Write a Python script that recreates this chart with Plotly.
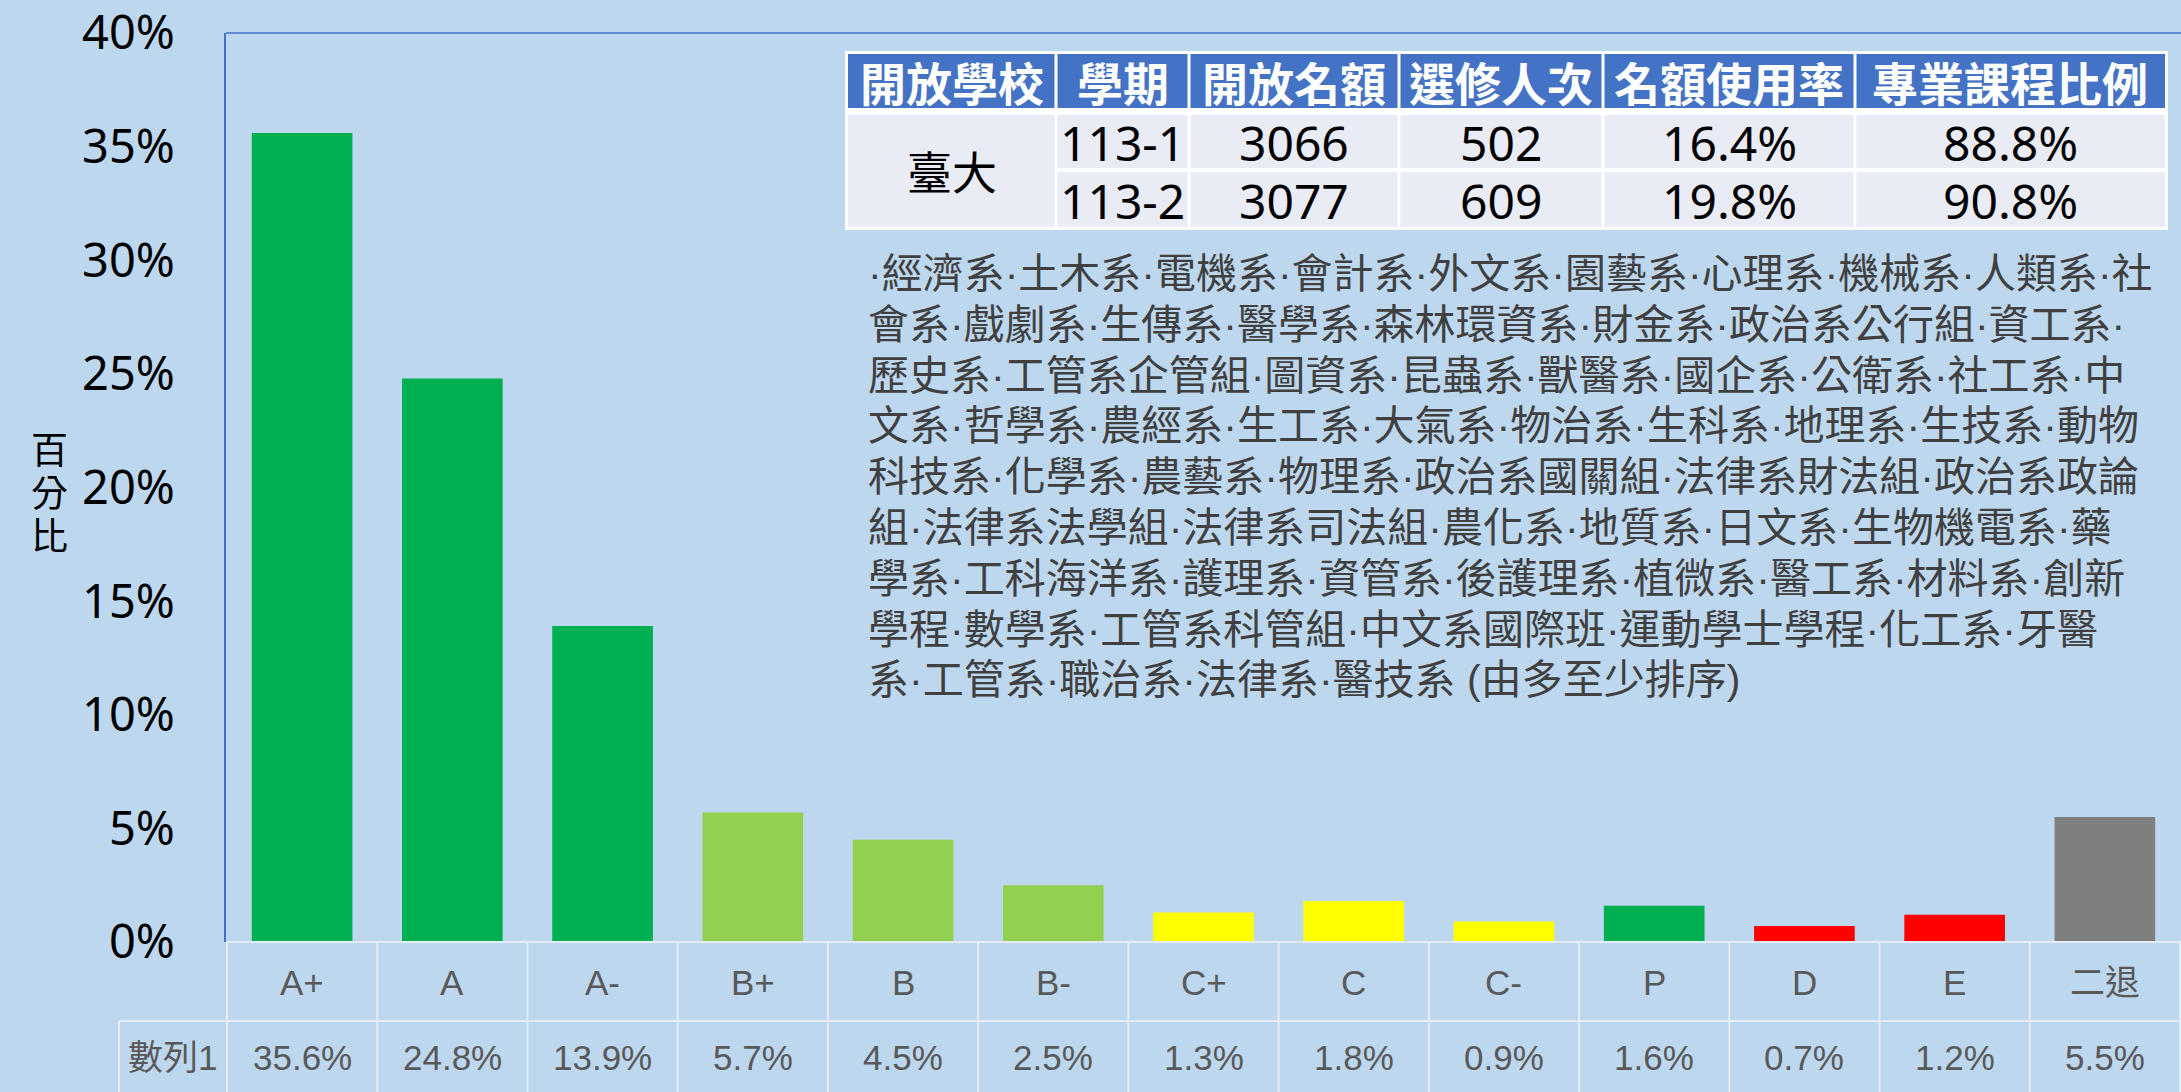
import plotly.graph_objects as go

# ---------------- data ----------------
categories = ["A+", "A", "A-", "B+", "B", "B-", "C+", "C", "C-", "P", "D", "E", "二退"]
values = [35.6, 24.8, 13.9, 5.7, 4.5, 2.5, 1.3, 1.8, 0.9, 1.6, 0.7, 1.2, 5.5]
series_name = "數列1"
y_ticks = [0, 5, 10, 15, 20, 25, 30, 35, 40]
y_title = "百分比"

table_header = ["開放學校", "學期", "開放名額", "選修人次", "名額使用率", "專業課程比例"]
school = "臺大"
terms = ["113-1", "113-2"]
quota = [3066, 3077]
enrolled = [502, 609]
usage_rate = [16.4, 19.8]
major_ratio = [88.8, 90.8]

dept_lines = [
    "·經濟系·土木系·電機系·會計系·外文系·園藝系·心理系·機械系·人類系·社",
    "會系·戲劇系·生傳系·醫學系·森林環資系·財金系·政治系公行組·資工系·",
    "歷史系·工管系企管組·圖資系·昆蟲系·獸醫系·國企系·公衛系·社工系·中",
    "文系·哲學系·農經系·生工系·大氣系·物治系·生科系·地理系·生技系·動物",
    "科技系·化學系·農藝系·物理系·政治系國關組·法律系財法組·政治系政論",
    "組·法律系法學組·法律系司法組·農化系·地質系·日文系·生物機電系·藥",
    "學系·工科海洋系·護理系·資管系·後護理系·植微系·醫工系·材料系·創新",
    "學程·數學系·工管系科管組·中文系國際班·運動學士學程·化工系·牙醫",
    "系·工管系·職治系·法律系·醫技系 (由多至少排序)",
]

# ---------------- styles ----------------
bar_colors = ["#00B050", "#00B050", "#00B050", "#92D050", "#92D050", "#92D050",
              "#FFFF00", "#FFFF00", "#FFFF00", "#00B050", "#FF0000", "#FF0000", "#7F7F7F"]
BG = "#BDD7EE"
AXIS_BLUE = "#4472C4"
GRID_LINE = "#E4ECF5"
CJK = "Noto Sans CJK TC"
LAT = "Liberation Sans, Noto Sans CJK TC"
NUM = "Noto Sans, Noto Sans CJK TC"

W, H = 2181, 1092
L, R, T, B = 226, 0, 33, 150
PW = W - L - R
PH = H - T - B


def px(x):
    return (x - L) / PW


def py(y):
    return (H - B - y) / PH


fig = go.Figure()
fig.add_trace(go.Bar(
    x=categories, y=values, name=series_name,
    marker=dict(color=bar_colors, line=dict(width=0)),
    hoverinfo="x+y",
))

shapes = []
annotations = []

# plot frame (top line; left line is the y axis line)
shapes.append(dict(type="line", xref="paper", yref="paper", x0=0, x1=1, y0=1, y1=1,
                   line=dict(color=AXIS_BLUE, width=1.5)))

# data table grid under the chart
row_split = 1021
label_left = 119
shapes.append(dict(type="line", xref="paper", yref="paper", x0=0, x1=1, y0=0, y1=0,
                   line=dict(color=GRID_LINE, width=2)))
shapes.append(dict(type="line", xref="paper", yref="paper", x0=px(label_left), x1=1,
                   y0=py(row_split), y1=py(row_split), line=dict(color=GRID_LINE, width=2)))
shapes.append(dict(type="line", xref="paper", yref="paper", x0=px(label_left), x1=px(label_left),
                   y0=py(row_split), y1=py(H), line=dict(color=GRID_LINE, width=2)))
for i in range(len(categories) + 1):
    shapes.append(dict(type="line", xref="x", yref="paper", x0=i - 0.5, x1=i - 0.5,
                       y0=0, y1=py(H), line=dict(color=GRID_LINE, width=2)))

# category row + value row of the data table
cat_y = 982
val_y = 1057
annotations.append(dict(xref="paper", yref="paper", x=px((label_left + L) / 2), y=py(val_y),
                        text=series_name, showarrow=False, xanchor="center", yanchor="middle",
                        height=44, font=dict(family=LAT, size=35, color="#595959")))
for c, v in zip(categories, values):
    annotations.append(dict(xref="x", yref="paper", x=c, y=py(cat_y), text=c,
                            showarrow=False, xanchor="center", yanchor="middle",
                            height=44, font=dict(family=LAT, size=35, color="#595959")))
    annotations.append(dict(xref="x", yref="paper", x=c, y=py(val_y), text=f"{v:.1f}%",
                            showarrow=False, xanchor="center", yanchor="middle",
                            height=44, font=dict(family=LAT, size=35, color="#595959")))

# y-axis title stacked vertically
for k, ch in enumerate(y_title):
    annotations.append(dict(xref="paper", yref="paper", x=px(49), y=py(448 + 43 * k), text=ch,
                            showarrow=False, xanchor="center", yanchor="middle", height=40,
                            font=dict(family=CJK, size=37, color="#000000")))

# ---------------- info table (top right) ----------------
col_edges = [848, 1056, 1189, 1399, 1603, 1855, 2165]
hdr_top, hdr_bot = 54, 108
r1_top, r1_bot = 115, 168
r2_top, r2_bot = 172, 227
g = 1.5

shapes.append(dict(type="rect", xref="paper", yref="paper", x0=px(845), x1=px(2168),
                   y0=py(51), y1=py(230), fillcolor="#FFFFFF", line=dict(width=0), layer="above"))


def cell(x0, x1, y0, y1, color):
    shapes.append(dict(type="rect", xref="paper", yref="paper", x0=px(x0), x1=px(x1),
                       y0=py(y0), y1=py(y1), fillcolor=color, line=dict(width=0), layer="above"))


ncol = len(table_header)
for i in range(ncol):
    xa = col_edges[i] + (g if i > 0 else 0)
    xb = col_edges[i + 1] - (g if i < ncol - 1 else 0)
    cell(xa, xb, hdr_top, hdr_bot, AXIS_BLUE)
    if i == 0:
        cell(xa, xb, r1_top, r2_bot, "#E9EBF5")
    else:
        cell(xa, xb, r1_top, r1_bot, "#E9EBF5")
        cell(xa, xb, r2_top, r2_bot, "#E9EBF5")
    annotations.append(dict(xref="paper", yref="paper", x=px((col_edges[i] + col_edges[i + 1]) / 2),
                            y=py((hdr_top + hdr_bot) / 2), text=f"<b>{table_header[i]}</b>",
                            showarrow=False, xanchor="center", yanchor="middle", height=52,
                            font=dict(family=CJK, size=46, color="#FFFFFF")))

annotations.append(dict(xref="paper", yref="paper", x=px((col_edges[0] + col_edges[1]) / 2),
                        y=py((r1_top + r2_bot) / 2), text=school, showarrow=False,
                        xanchor="center", yanchor="middle",
                        font=dict(family=CJK, size=45, color="#000000")))

rows = []
for j in range(len(terms)):
    rows.append([terms[j], str(quota[j]), str(enrolled[j]),
                 f"{usage_rate[j]:.1f}%", f"{major_ratio[j]:.1f}%"])
row_centers = [(r1_top + r1_bot) / 2, (r2_top + r2_bot) / 2]
for j, row in enumerate(rows):
    for i, txt in enumerate(row):
        annotations.append(dict(xref="paper", yref="paper",
                                x=px((col_edges[i + 1] + col_edges[i + 2]) / 2),
                                y=py(row_centers[j]), text=txt, showarrow=False,
                                xanchor="center", yanchor="middle", height=52,
                                font=dict(family=NUM, size=48, color="#000000")))

# department list
for k, line in enumerate(dept_lines):
    annotations.append(dict(xref="paper", yref="paper", x=px(866), y=py(274 + 50.8 * k),
                            text=line, showarrow=False, xanchor="left", yanchor="middle",
                            height=48, font=dict(family=LAT, size=41, color="#404040")))

fig.update_layout(
    width=W, height=H,
    margin=dict(l=L, r=R, t=T, b=B, pad=0),
    paper_bgcolor=BG, plot_bgcolor=BG,
    showlegend=False,
    bargap=0.33,
    shapes=shapes,
    annotations=annotations,
    xaxis=dict(
        type="category", showgrid=False, zeroline=False, showline=False, ticks="",
        showticklabels=False,
    ),
    yaxis=dict(
        range=[0, 40], tickvals=y_ticks, ticktext=[f"{t}%" for t in y_ticks],
        showgrid=False, zeroline=False, showline=True, linecolor=AXIS_BLUE, linewidth=1.5,
        ticks="", tickfont=dict(family=NUM, size=47, color="#000000"),
        ticklabelstandoff=40, ticklabeloverflow="allow",
    ),
)

fig.write_html("out.html", config={"displayModeBar": False},
               post_script="document.body.style.margin='0';")
